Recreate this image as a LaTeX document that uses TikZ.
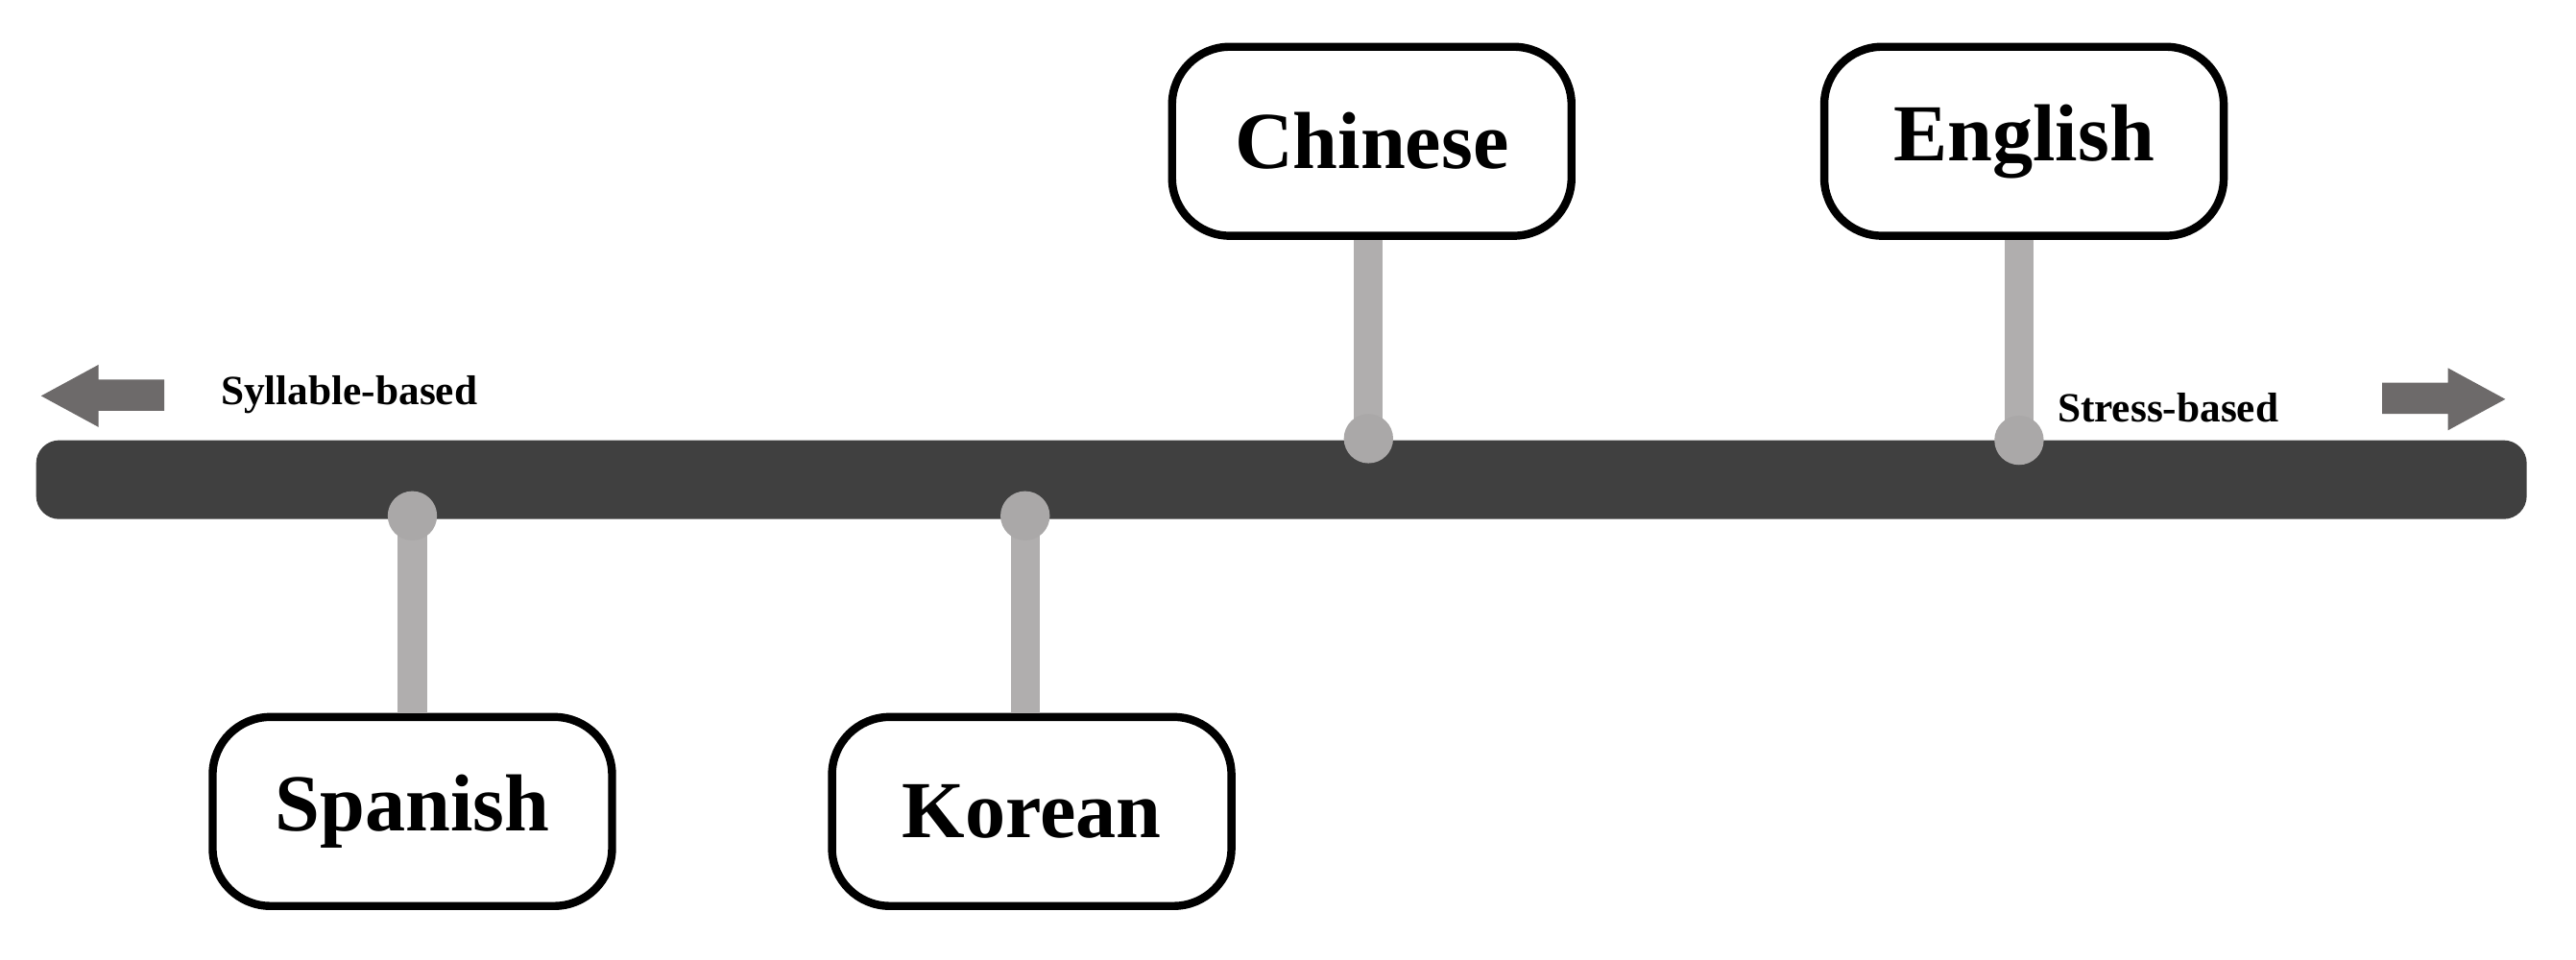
\documentclass[tikz,border=0pt]{standalone}
\usepackage{fontspec}
\setmainfont{Liberation Serif}
\definecolor{bar}{HTML}{404040}
\definecolor{stem}{HTML}{B0AEAE}
\definecolor{dot}{HTML}{AAA8A8}
\definecolor{arr}{HTML}{6D6A6A}
\begin{document}
\begin{tikzpicture}[x=0.01cm,y=-0.01cm,
  lang/.style={draw=black,line width=1.4pt,rounded corners=10pt,fill=white,minimum width=2.43cm,minimum height=1.15cm,font=\fontsize{14}{16}\selectfont\bfseries},
  stemline/.style={draw=stem,line width=5pt},
  dotc/.style={circle,fill=dot,minimum size=0.3cm,inner sep=0pt},
  lab/.style={font=\fontsize{7.2}{9}\selectfont\bfseries}]
\useasboundingbox (0,0) rectangle (1568,584);
\fill[bar,rounded corners=4pt] (22,268) rectangle (1538,316);
% arrows
\fill[arr] (100,231) -- (60,231) -- (60,222) -- (25,241) -- (60,260) -- (60,250) -- (100,250) -- cycle;
\fill[arr] (1450,233) -- (1490,233) -- (1490,224) -- (1525,243) -- (1490,262) -- (1490,252) -- (1450,252) -- cycle;
\node[lab,anchor=west] (syl) at (122,240) {Syllable-based};
\node[lab,anchor=west] (str) at (1240,248) {Stress-based};
% boxes
\node[lang] (chi) at (835,86) {Chinese};
\node[lang] (eng) at (1232,86) {English};
\node[lang] (spa) at (251,494) {Spanish};
\node[lang] (kor) at (628,494) {Korean};
\coordinate (dc) at (833,267);
\coordinate (de) at (1229,268);
\coordinate (ds) at (251,314);
\coordinate (dk) at (624,314);
\draw[stemline] (chi.south -| dc) -- (dc);
\draw[stemline] (eng.south -| de) -- (de);
\draw[stemline] (spa.north -| ds) -- (ds);
\draw[stemline] (kor.north -| dk) -- (dk);
\node[dotc] at (dc) {};
\node[dotc] at (de) {};
\node[dotc] at (ds) {};
\node[dotc] at (dk) {};
\end{tikzpicture}
\end{document}
